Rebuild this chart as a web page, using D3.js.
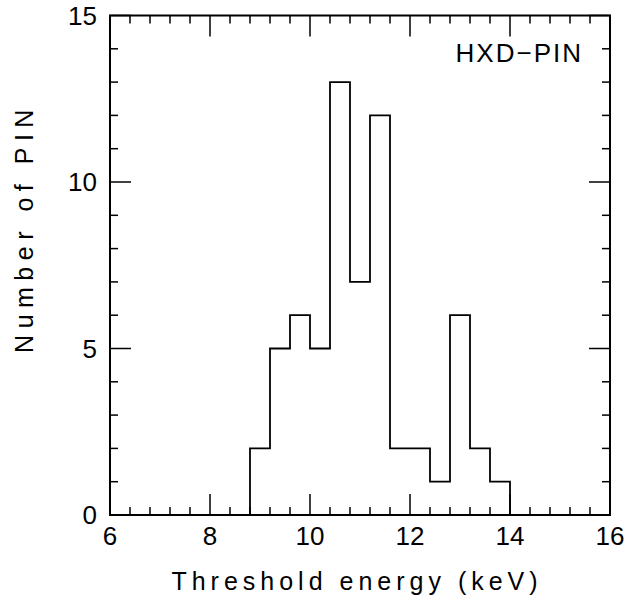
<!DOCTYPE html>
<html lang="en">
<head>
<meta charset="utf-8">
<title>HXD-PIN threshold histogram</title>
<script src="https://cdn.jsdelivr.net/npm/d3@7"></script>
<style>
  body { margin: 0; background: #fff; }
  text { font-family: "Liberation Sans", Arial, sans-serif; fill: #000; }
  .frame { fill: none; stroke: #000; stroke-width: 2; }
  .tick-line { stroke: #000; stroke-width: 1.5; }
  .hist { fill: none; stroke: #000; stroke-width: 1.8; }
</style>
</head>
<body>
<script>
// bin edges (keV) and counts per bin
var binEdges = [8.8, 9.2, 9.6, 10.0, 10.4, 10.8, 11.2, 11.6, 12.0, 12.4, 12.8, 13.2, 13.6, 14.0];
var binCounts = [2, 5, 6, 5, 13, 7, 12, 2, 2, 1, 6, 2, 1];
var xTickLabels = [6, 8, 10, 12, 14, 16];
var yTickLabels = [0, 5, 10, 15];

var w = 626, h = 602;
var padL = 110, padR = 610, padT = 15.5, padB = 515;

var svg = d3.select("body").append("svg")
  .attr("width", w)
  .attr("height", h);

var x = d3.scaleLinear().domain([6, 16]).range([padL, padR]);
var y = d3.scaleLinear().domain([0, 15]).range([padB, padT]);

// minor / major ticks on all four sides
var xMinor = d3.range(6, 16.001, 0.4);
var yMinor = d3.range(0, 15.001, 1);
var majLen = 21, minLen = 8;

function isMajorX(v) { return xTickLabels.some(function(t) { return Math.abs(t - v) < 1e-6; }); }
function isMajorY(v) { return yTickLabels.some(function(t) { return Math.abs(t - v) < 1e-6; }); }

var ticks = svg.append("g");
xMinor.forEach(function(v) {
  var len = isMajorX(v) ? majLen : minLen;
  ticks.append("line").attr("class", "tick-line")
    .attr("x1", x(v)).attr("x2", x(v)).attr("y1", padB).attr("y2", padB - len);
  ticks.append("line").attr("class", "tick-line")
    .attr("x1", x(v)).attr("x2", x(v)).attr("y1", padT).attr("y2", padT + len);
});
yMinor.forEach(function(v) {
  var len = isMajorY(v) ? majLen : minLen;
  ticks.append("line").attr("class", "tick-line")
    .attr("x1", padL).attr("x2", padL + len).attr("y1", y(v)).attr("y2", y(v));
  ticks.append("line").attr("class", "tick-line")
    .attr("x1", padR).attr("x2", padR - len).attr("y1", y(v)).attr("y2", y(v));
});

// frame
svg.append("rect").attr("class", "frame")
  .attr("x", padL).attr("y", padT)
  .attr("width", padR - padL).attr("height", padB - padT);

// histogram outline
var pts = [[binEdges[0], 0]];
binCounts.forEach(function(c, i) {
  pts.push([binEdges[i], c]);
  pts.push([binEdges[i + 1], c]);
});
pts.push([binEdges[binEdges.length - 1], 0]);

svg.append("path").attr("class", "hist")
  .attr("d", d3.line().x(function(d) { return x(d[0]); }).y(function(d) { return y(d[1]); })(pts));

// tick labels
svg.selectAll(".xl").data(xTickLabels).enter().append("text")
  .attr("x", function(d) { return x(d); })
  .attr("y", 545)
  .attr("text-anchor", "middle")
  .style("font-size", "26px")
  .text(function(d) { return d; });

svg.selectAll(".yl").data(yTickLabels).enter().append("text")
  .attr("x", 97)
  .attr("y", function(d) { return y(d) + 9; })
  .attr("text-anchor", "end")
  .style("font-size", "26px")
  .text(function(d) { return d; });

// axis titles
svg.append("text")
  .attr("x", 357).attr("y", 590)
  .attr("text-anchor", "middle")
  .style("font-size", "25px")
  .style("letter-spacing", "5px")
  .text("Threshold energy (keV)");

svg.append("text")
  .attr("transform", "translate(33,228) rotate(-90)")
  .attr("text-anchor", "middle")
  .style("font-size", "25px")
  .style("letter-spacing", "6.5px")
  .text("Number of PIN");

svg.append("text")
  .attr("x", 583).attr("y", 62)
  .attr("text-anchor", "end")
  .style("font-size", "26px")
  .style("letter-spacing", "2px")
  .text("HXD\u2212PIN");
</script>
</body>
</html>
